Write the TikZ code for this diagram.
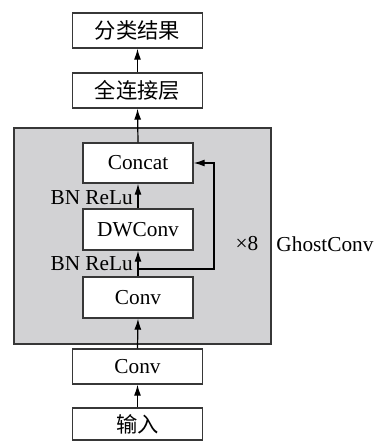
\documentclass[tikz,border=0pt]{standalone}
\usepackage{fontspec}
\setmainfont{Liberation Serif}
\newfontfamily\cjk{Noto Sans CJK SC}
\usetikzlibrary{arrows.meta}
\definecolor{edge}{RGB}{55,55,55}
\definecolor{panel}{RGB}{210,210,212}
\tikzset{
  box/.style={draw=edge, line width=1.4pt, fill=white, inner sep=0pt,
              font=\fontsize{21.3}{23}\selectfont},
  outerbox/.style={box, minimum width=130pt, minimum height=35pt},
  innerbox/.style={box, minimum width=110pt, minimum height=40pt},
  flow/.style={draw=black, line width=1.2pt, -{Latex[length=11pt,width=7pt]}},
  lbl/.style={inner sep=0pt, font=\fontsize{21.3}{23}\selectfont}
}
\begin{document}
\begin{tikzpicture}[x=1pt, y=-1pt]
  \useasboundingbox (0,0) rectangle (380,442);
  % GhostConv block background
  \draw[draw=edge, line width=1.4pt, fill=panel] (14,128) rectangle (271,344);

  % main column
  \node[outerbox] (res)  at (137.5,30.5)  {\cjk 分类结果};
  \node[outerbox] (fc)   at (137.5,90.5)  {\cjk 全连接层};
  \node[innerbox] (cat)  at (138,163)     {Concat};
  \node[innerbox, minimum height=41pt] (dw) at (138,229.5) {DWConv};
  \node[innerbox, minimum height=41pt] (gc) at (138,297.5) {Conv};
  \node[outerbox] (cv)   at (137.5,366.5) {Conv};
  \node[outerbox, minimum height=32pt] (in) at (137.5,424) {\cjk 输入};

  % side labels
  \node[lbl, anchor=east] (bn1) at (133,198) {BN ReLu};
  \node[lbl, anchor=east] (bn2) at (133,264) {BN ReLu};
  \node[lbl] (rep)   at (247,244) {×8};
  \node[lbl] (ghost) at (325,244) {GhostConv};

  % connections
  \coordinate (split) at (gc.north |- 0,269);
  \coordinate (turn1) at (214,269);
  \coordinate (turn2) at (214,163);
  \draw[flow] (in.north) -- (cv.south);
  \draw[flow] (cv.north) -- (gc.south);
  \draw[flow] (gc.north) -- (dw.south);
  \draw[flow] (dw.north) -- (cat.south);
  \draw[flow] (cat.north) -- (fc.south);
  \draw[flow] (fc.north) -- (res.south);
  \draw[flow] (split) -- (turn1) -- (turn2) -- (cat.east);
\end{tikzpicture}
\end{document}
